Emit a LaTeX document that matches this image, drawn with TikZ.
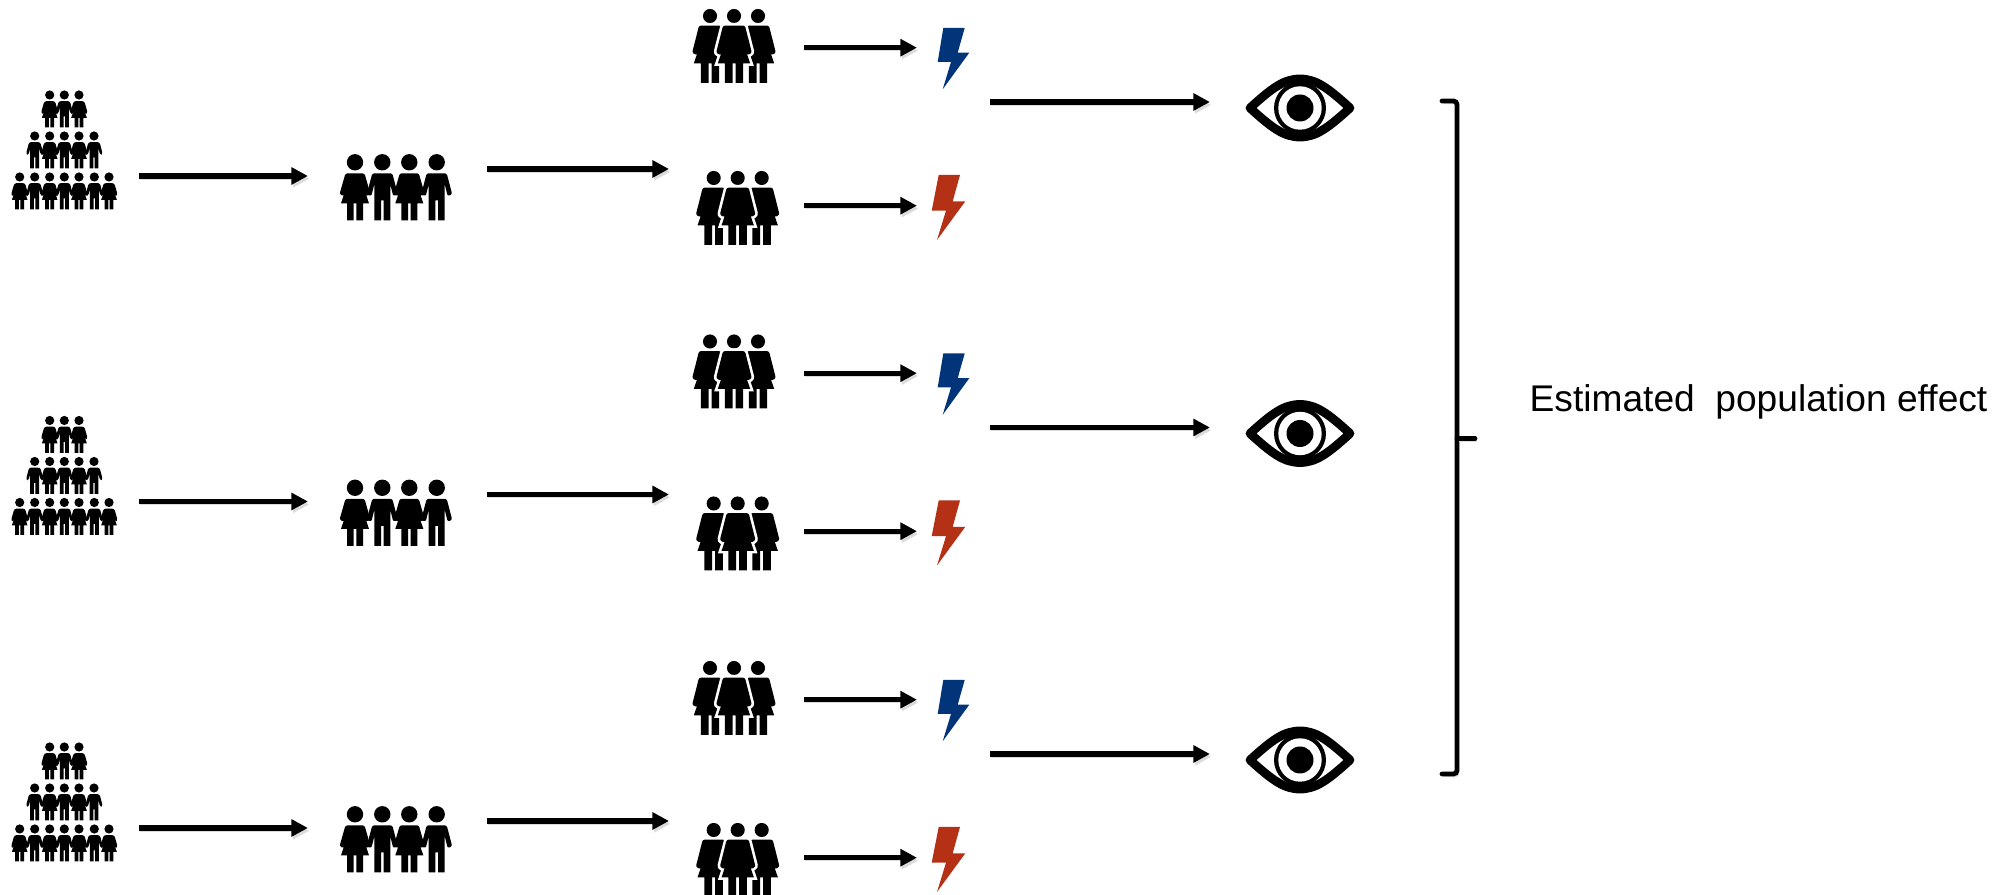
\documentclass[tikz,border=0pt]{standalone}
\usepackage{fontspec}
\setmainfont{Liberation Sans}
\usetikzlibrary{arrows.meta,positioning,calc}
\definecolor{boltblue}{HTML}{02347A}
\definecolor{boltred}{HTML}{B43116}
\def\headr{8.2}
\def\neck{11}
\tikzset{
  icon/.style={inner sep=0pt,outer sep=0pt,minimum height=0.3cm},
  flow/.style={line width=1.45pt,-{Triangle[length=1.65mm,width=1.65mm]},
    preaction={draw=black!14,transform canvas={shift={(0.4pt,-0.8pt)}}}},
  brace/.style={line width=1.35pt,line cap=round,rounded corners=1pt,
    preaction={draw=black!14,transform canvas={shift={(0.5pt,-0.7pt)}}}},
  figure/.style={fill=black},
  halo/.style={preaction={draw=white,line width=1.5pt}},
  man/.pic={
    \path[figure] (0,0) circle (\headr);
    \path[figure] (-8,58) -- (-8,22) [rounded corners=0.6pt] -- (-11,34) -- (-15.5,32)
      -- (-10,\neck) -- (10,\neck) -- (15.5,32) -- (11,34) [rounded corners=0pt] -- (8,22) -- (8,58)
      -- (1.3,58) -- (1.3,38) -- (-1.3,38) -- (-1.3,58) -- cycle;
  },
  woman/.pic={
    \path[figure] (0,0) circle (\headr);
    \path[figure] (-8,58) -- (-8,41) -- (-14,41) -- (-7.5,22)
      [rounded corners=0.6pt] -- (-11,34) -- (-15.5,32) -- (-9.5,\neck) -- (9.5,\neck) -- (15.5,32) -- (11,34)
      [rounded corners=0pt] -- (7.5,22) -- (14,41) -- (8,41) -- (8,58) -- (1.3,58) -- (1.3,41)
      -- (-1.3,41) -- (-1.3,58) -- cycle;
  },
  crowd/.pic={
    \foreach \px in {49.7,79} \pic[scale=.56] at (\px,95) {woman};
    \pic[scale=.56] at (64.3,95) {man};
    \foreach \px in {34.7,64.3,94} \pic[scale=.56] at (\px,136) {man};
    \foreach \px in {49.7,79} \pic[scale=.56] at (\px,136) {woman};
    \foreach \px in {19.7,49.7,79,109} \pic[scale=.56] at (\px,177) {woman};
    \foreach \px in {34.7,64.3,94.3} \pic[scale=.56] at (\px,177) {man};
  },
  group/.pic={
    \pic at (355,162.3) {woman};
    \pic at (382.3,162.3) {man};
    \pic at (409.3,162.3) {woman};
    \pic at (436.7,162.3) {man};
  },
  trio/.pic={
    \def\headr{6.1}
    \def\neck{8.3}
    \pic[scale=1.155] at (-24,0) {woman};
    \pic[scale=1.155] at (24,0) {woman};
    \tikzset{figure/.append style={halo}}
    \pic[scale=1.155] at (0,0) {woman};
  },
  eye/.pic={
    \draw[line width=2.5pt,line join=round,fill=white] (-50,0)
      .. controls (-28,-20) and (-16,-29) .. (0,-29)
      .. controls (16,-29) and (28,-20) .. (50,0)
      .. controls (28,20) and (16,29) .. (0,29)
      .. controls (-16,29) and (-28,20) .. (-50,0) -- cycle;
    \fill (0,0) circle (26);
    \fill[white] (0,0) circle (21.7);
    \fill (0,0) circle (13.5);
  },
}
\begin{document}
\begin{tikzpicture}[x=0.01cm,y=-0.01cm]
    \useasboundingbox (0,0) rectangle (2005,895);

    \foreach \row/\dy in {A/0,B/325.5,C/652} {
    \begin{scope}[shift={(0,\dy)}]
        \pic at (0,0) {crowd};
        \pic at (0,0) {group};
        \pic at (734,16) {trio};
        \pic at (737.7,178) {trio};
        \node [icon,minimum width=1.48cm] (crowd\row) at (65,176) {};
        \node [icon,minimum width=1.79cm] (group\row) at (397.5,176) {};
        \node [icon,minimum width=1.40cm] (treatT\row) at (734,47.7) {};
        \node [icon,minimum width=1.40cm] (treatC\row) at (734,205.7) {};
        \node [icon,minimum width=0.66cm] (boltT\row) at (950,47.7) {};
        \node [icon,minimum width=0.66cm] (boltC\row) at (950,205.7) {};
        \node [icon,minimum width=1.80cm] (eye\row) at (1300,102) {};
        \coordinate (split\row) at (669,169);
        \coordinate (merge\row) at (990,102);
        % bolts
        \fill [boltblue] (943.3,28) -- (964.7,28) -- (957.7,52.7) -- (969.3,52.7)
            -- (942.7,89.3) -- (951,62) -- (937.7,62) -- cycle;
        \fill [boltred] (938.7,175) -- (960,175) -- (952.7,201.3) -- (965.3,201.3)
            -- (937,240) -- (946,210.7) -- (931.7,210.7) -- cycle;
        \pic at (1300,108) {eye};
        \draw [flow] (crowd\row.east) -- (group\row.west);
        \draw [flow] (group\row.east |- split\row) -- (split\row);
        \draw [flow] (treatT\row.east) -- (boltT\row.west);
        \draw [flow] (treatC\row.east) -- (boltC\row.west);
        \draw [flow] (merge\row) -- (eye\row.west);
    \end{scope}
    }
    % bracket
    \draw [brace] (1442,101) -- (1457,101) -- (1457,774) -- (1442,774);
    \draw [brace] (1457,438.5) -- (1475,438.5);
    \node [anchor=base west,inner sep=0pt] (effect) at (1529,412)
        {\fontsize{10.56pt}{12pt}\selectfont Estimated\ \ population effect};
\end{tikzpicture}
\end{document}
